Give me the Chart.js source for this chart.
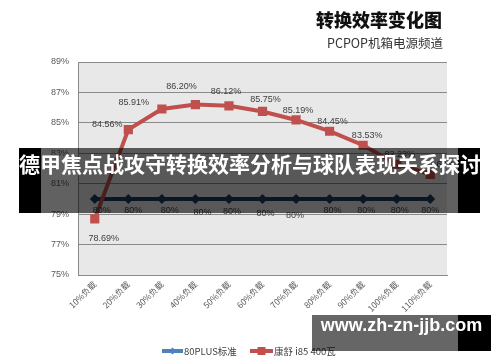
<!DOCTYPE html>
<html><head><meta charset="utf-8">
<script src="https://cdn.jsdelivr.net/npm/chart.js@4/dist/chart.umd.min.js"></script>
<style>
html,body{margin:0;padding:0;background:#fff;}
#wrap{position:relative;width:500px;height:362px;overflow:hidden;}
canvas{position:absolute;left:0;top:0;}
.t{position:absolute;white-space:nowrap;}
</style></head>
<body><div id="wrap">
<canvas id="c" width="500" height="362"></canvas>
<div class="t" style="left:316px;top:6px;font:900 18px 'Noto Sans CJK SC';color:#111;">转换效率变化图</div>
<div class="t" style="left:327px;top:33px;font:12.5px 'Noto Sans CJK SC';color:#333;">PCPOP机箱电源频道</div>
<div style="position:absolute;left:19px;top:148px;width:22px;height:65px;background:#000;"></div>
<div style="position:absolute;left:41px;top:148px;width:417px;height:65px;background:rgba(0,0,0,0.62);"></div>
<div style="position:absolute;left:458px;top:148px;width:22px;height:65px;background:#000;"></div>
<div class="t" style="left:0px;top:148px;width:500px;height:65px;line-height:65px;text-align:center;font:bold 21px 'Noto Sans CJK SC';color:#fff;">德甲焦点战攻守转换效率分析与球队表现关系探讨</div>
<div style="position:absolute;left:312px;top:315px;width:146px;height:36px;background:rgba(0,0,0,0.6);"></div>
<div style="position:absolute;left:458px;top:315px;width:33px;height:36px;background:#000;"></div>
<div class="t" style="left:312px;top:315px;width:179px;height:36px;line-height:36px;text-align:center;font:bold 18px 'Liberation Sans';color:#fff;">www.zh-zn-jjb.com</div>
</div>
<script>
const categories = ['10%负载','20%负载','30%负载','40%负载','50%负载','60%负载','70%负载','80%负载','90%负载','100%负载','110%负载'];
const standard80Plus = [80,80,80,80,80,80,80,80,80,80,80];
const kangshuI85 = [78.69,84.56,85.91,86.20,86.12,85.75,85.19,84.45,83.53,82.28,81.62];
const seriesNames = ['80PLUS标准','康舒 i85 400瓦'];
const yMin = 75, yMax = 89, yStep = 2;

// label nudges (style, not data)
const redNudge = [[9,20],[-21,-5],[-28,-6],[-14,-18],[-3,-14],[3,-12],[2,-9],[3,-10],[4,-10],[3,-10],[9,-10]];
const blueNudge = [[7,12],[5,12],[8,12],[7,14],[3,13],[3,15],[-1,17],[3,12],[3,12],[3,12],[0,12]];

const bgPlugin = {
  id:'bg',
  beforeDraw(chart){
    const {ctx, chartArea:a} = chart;
    ctx.save(); ctx.fillStyle='#e8e8e8';
    ctx.fillRect(a.left,a.top,a.right-a.left,a.bottom-a.top);
    ctx.restore();
  }
};
const labelPlugin = {
  id:'lbl',
  afterDatasetsDraw(chart){
    const ctx = chart.ctx;
    ctx.save();
    ctx.font = '9px "Liberation Sans"';
    ctx.fillStyle = '#404040';
    ctx.textAlign='center'; ctx.textBaseline='middle';
    const m0 = chart.getDatasetMeta(0), m1 = chart.getDatasetMeta(1);
    m0.data.forEach((p,i)=>{
      ctx.fillText(standard80Plus[i]+'%', p.x+blueNudge[i][0], p.y+blueNudge[i][1]);
    });
    m1.data.forEach((p,i)=>{
      ctx.fillText(kangshuI85[i].toFixed(2)+'%', p.x+redNudge[i][0], p.y+redNudge[i][1]);
    });
    // legend
    const ly = 351;
    ctx.lineWidth = 4;
    ctx.strokeStyle = '#4f81bd'; ctx.fillStyle='#4f81bd';
    ctx.beginPath(); ctx.moveTo(162,ly); ctx.lineTo(183,ly); ctx.stroke();
    ctx.beginPath(); ctx.moveTo(172.5,ly-3.5); ctx.lineTo(176,ly); ctx.lineTo(172.5,ly+3.5); ctx.lineTo(169,ly); ctx.closePath(); ctx.fill();
    ctx.strokeStyle = '#c0504d'; ctx.fillStyle='#c0504d';
    ctx.beginPath(); ctx.moveTo(250,ly); ctx.lineTo(273,ly); ctx.stroke();
    ctx.fillRect(257.5,ly-4,8,8);
    ctx.fillStyle='#404040'; ctx.textAlign='left';
    ctx.font = '9.5px "Noto Sans CJK SC"';
    ctx.fillText(seriesNames[0],184,ly);
    ctx.fillText(seriesNames[1],274,ly);
    ctx.restore();
  }
};

new Chart(document.getElementById('c'), {
  type:'line',
  data:{
    labels:categories,
    datasets:[
      {label:seriesNames[0], data:standard80Plus, borderColor:'#1f3a5f', backgroundColor:'#1f3a5f', order:2,
       borderWidth:4, pointStyle:'rectRot', pointRadius:5, pointBorderWidth:0, tension:0},
      {label:seriesNames[1], data:kangshuI85, borderColor:'#c0504d', backgroundColor:'#c0504d', order:1,
       borderWidth:4, pointStyle:'rect', pointRadius:6.5, pointBorderWidth:0, tension:0}
    ]
  },
  options:{
    responsive:false, animation:false, devicePixelRatio:1,
    layout:{padding:{top:62,right:53,left:0,bottom:0}},
    plugins:{legend:{display:false}, title:{display:false}, tooltip:{enabled:false}},
    scales:{
      x:{
        offset:true,
        grid:{display:false, drawTicks:false},
        border:{color:'#8a8a8a'},
        ticks:{minRotation:45,maxRotation:45,autoSkip:false,padding:4,color:'#595959',font:{size:8.5,family:'Noto Sans CJK SC'}},
        afterFit(s){ s.height = 87; }
      },
      y:{
        min:yMin, max:yMax,
        grid:{color:'#8a8a8a', drawTicks:false},
        border:{color:'#8a8a8a'},
        ticks:{stepSize:yStep, padding:9, color:'#595959', font:{size:9,family:'Liberation Sans'}, callback:v=>v+'%'},
        afterFit(s){ s.width = 78; }
      }
    }
  },
  plugins:[bgPlugin,labelPlugin]
});
</script>
</body></html>
